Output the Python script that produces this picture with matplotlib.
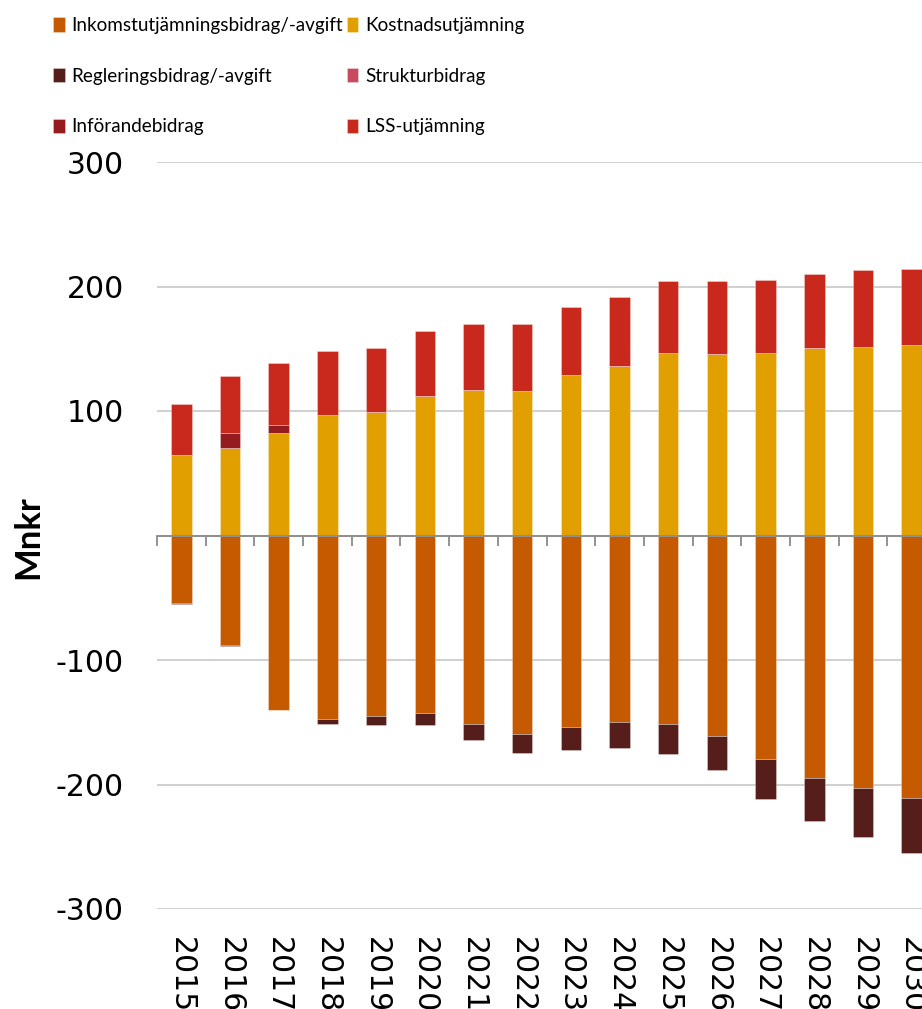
import matplotlib
matplotlib.use("Agg")
import matplotlib.pyplot as plt
import numpy as np

years = [str(y) for y in range(2015, 2031)]

inkomst = [-54.3, -87.7, -139.8, -147.5, -145.1, -142.7, -151.8, -159.3,
           -154.2, -150.2, -151.8, -160.7, -179.6, -195.1, -202.8, -210.6]
reglering = [-1.1, -1.1, -0.4, -4.0, -7.5, -9.9, -12.5, -15.2,
             -17.7, -20.6, -24.1, -27.7, -32.0, -34.5, -39.6, -44.3]
kostnad = [64.8, 69.9, 82.5, 96.9, 99.3, 112.1, 117.1, 116.1,
           128.6, 136.4, 146.8, 145.4, 146.8, 150.6, 151.8, 153.2]
struktur = [0.0] * 16
inforande = [0.0, 12.6, 6.4, 0, 0, 0, 0, 0, 0, 0, 0, 0, 0, 0, 0, 0]
lss = [40.9, 45.9, 49.9, 50.9, 51.3, 52.3, 52.7, 53.7,
       55.1, 55.0, 57.4, 58.8, 58.7, 59.7, 61.3, 61.1]

series_names = ["Inkomstutjämningsbidrag/-avgift", "Kostnadsutjämning",
                "Regleringsbidrag/-avgift", "Strukturbidrag",
                "Införandebidrag", "LSS-utjämning"]
colors = {"Inkomstutjämningsbidrag/-avgift": "#C55A00",
          "Kostnadsutjämning": "#E2A000",
          "Regleringsbidrag/-avgift": "#561E1B",
          "Strukturbidrag": "#C64B5E",
          "Införandebidrag": "#951B1E",
          "LSS-utjämning": "#C8291C"}

yticks = [-300, -200, -100, 0, 100, 200, 300]
ytick_labels = ["-300", "-200", "-100", "", "100", "200", "300"]

W, H = 922, 1009
fig = plt.figure(figsize=(W / 100, H / 100), dpi=100)
left, right, bottom, top = 157, 936, 909, 162
ax = fig.add_axes([left / W, (H - bottom) / H, (right - left) / W, (bottom - top) / H])

x = np.arange(len(years))
bw = 0.42
ek = dict(edgecolor=(1, 1, 1, 0.35), linewidth=0.6)

h = {}
h["Inkomstutjämningsbidrag/-avgift"] = ax.bar(x, inkomst, bw, color=colors["Inkomstutjämningsbidrag/-avgift"], **ek)
h["Regleringsbidrag/-avgift"] = ax.bar(x, reglering, bw, bottom=inkomst, color=colors["Regleringsbidrag/-avgift"], **ek)
h["Kostnadsutjämning"] = ax.bar(x, kostnad, bw, color=colors["Kostnadsutjämning"], **ek)
b1 = np.array(kostnad)
h["Strukturbidrag"] = ax.bar(x, struktur, bw, bottom=b1, color=colors["Strukturbidrag"], **ek)
b2 = b1 + np.array(struktur)
h["Införandebidrag"] = ax.bar(x, inforande, bw, bottom=b2, color=colors["Införandebidrag"], **ek)
b3 = b2 + np.array(inforande)
h["LSS-utjämning"] = ax.bar(x, lss, bw, bottom=b3, color=colors["LSS-utjämning"], **ek)

ax.set_xlim(-0.5, len(years) - 0.5)
ax.set_ylim(-300, 300)
ax.set_yticks(yticks)
ax.set_yticklabels(ytick_labels, fontsize=21.5, family="DejaVu Sans")
ax.tick_params(axis="y", length=0, pad=24)
ax.set_axisbelow(True)
ax.yaxis.grid(True, color="#C8C8C8", linewidth=1.2)
ax.xaxis.grid(False)

for s in ["left", "right", "top"]:
    ax.spines[s].set_visible(False)
ax.spines["bottom"].set_position(("data", 0))
ax.spines["bottom"].set_color("#8A8A8A")
ax.spines["bottom"].set_linewidth(1.3)
ax.spines["bottom"].set_zorder(3)
ax.set_xticks(np.arange(-0.5, len(years), 1.0))
ax.set_xticklabels([])
ax.tick_params(axis="x", direction="out", length=7.2, width=1.3, color="#8A8A8A")

sec = ax.secondary_xaxis(0)
sec.set_xticks(x)
sec.set_xticklabels(years, rotation=-90, fontsize=21.5, family="DejaVu Sans")
sec.tick_params(length=0, pad=20)
sec.spines["bottom"].set_visible(False)

fig.text(28 / W, 1 - 537 / H, "Mnkr", rotation=90, fontsize=25, fontweight="bold",
         family="Lato", ha="center", va="center")

order = ["Inkomstutjämningsbidrag/-avgift", "Regleringsbidrag/-avgift", "Införandebidrag",
         "Kostnadsutjämning", "Strukturbidrag", "LSS-utjämning"]
leg = fig.legend([h[n] for n in order], order, loc="upper left",
                 bbox_to_anchor=(53 / W, 1 - 17 / H), ncol=2, frameon=False,
                 prop={"family": "Lato", "size": 13.6},
                 handlelength=0.62, handleheight=0.78, handletextpad=0.35,
                 columnspacing=0.2, labelspacing=1.78, borderpad=0, borderaxespad=0)

fig.savefig("out.png", dpi=100)
